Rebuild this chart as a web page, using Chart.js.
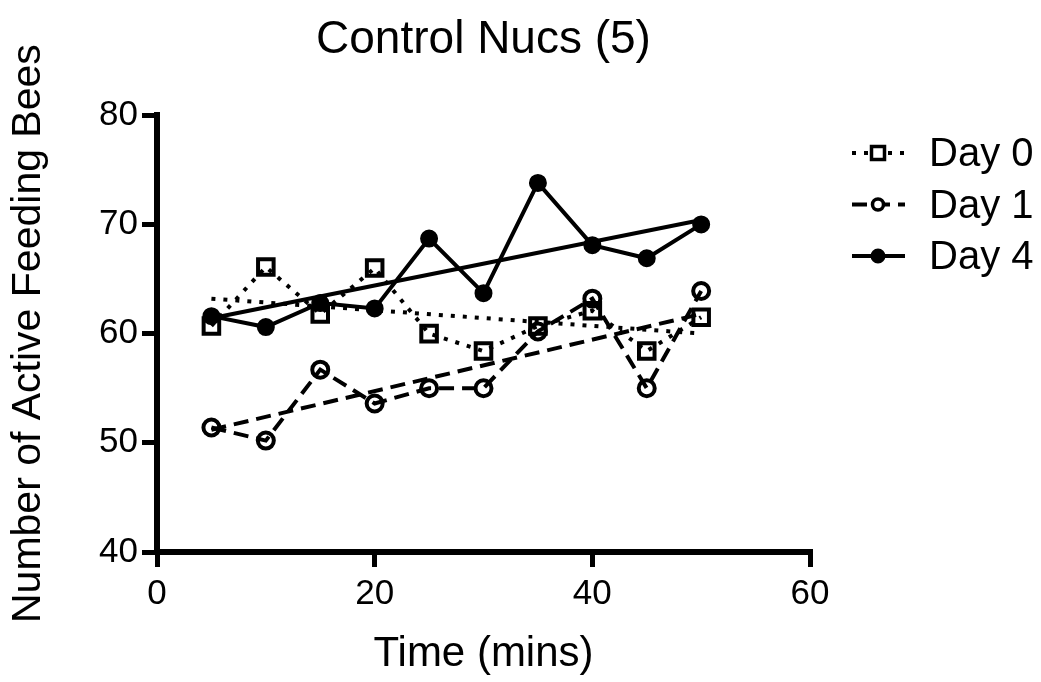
<!DOCTYPE html>
<html>
<head>
<meta charset="utf-8">
<script src="https://cdn.jsdelivr.net/npm/chart.js@4"></script>
<style>
  html, body { margin: 0; padding: 0; background: #fff; }
  #wrap { width: 1041px; height: 682px; }
</style>
</head>
<body>
<div id="wrap"><canvas id="chart" width="1041" height="682"></canvas></div>
<script>
  // values
  const times = [5, 10, 15, 20, 25, 30, 35, 40, 45, 50];
  const day0 = [60.7, 66.1, 61.8, 66.0, 60.0, 58.4, 60.7, 62.1, 58.4, 61.5];
  const day1 = [51.4, 50.2, 56.7, 53.6, 55.0, 55.0, 60.2, 63.2, 55.0, 63.9];
  const day4 = [61.6, 60.6, 62.8, 62.3, 68.7, 63.7, 73.8, 68.1, 66.9, 70.0];

  // fitted trend lines, end points as drawn
  const fitX = [5, 50];
  const fit0 = [63.2, 60.0];
  const fit1 = [51.2, 61.8];
  const fit4 = [61.4, 70.4];

  const seriesNames = ['Day 0', 'Day 1', 'Day 4'];

  const FONT = '"Liberation Sans", Arial, Helvetica, sans-serif';
  const BLACK = '#000';

  const styles = [
    { dash: [4, 8], pointStyle: 'rect', radius: 11, pw: 4, fill: 'rgba(0,0,0,0)' },
    { dash: [15, 8], pointStyle: 'circle', radius: 8, pw: 4, fill: 'rgba(0,0,0,0)' },
    { dash: [], pointStyle: 'circle', radius: 8, pw: 2, fill: BLACK }
  ];

  const toXY = (xs, ys) => xs.map((x, i) => ({ x: x, y: ys[i] }));

  function dataSet(label, ys, st){
    return {
      label: label,
      data: toXY(times, ys),
      borderColor: BLACK,
      borderWidth: 4,
      borderDash: st.dash,
      pointStyle: st.pointStyle,
      pointRadius: st.radius,
      pointBorderWidth: st.pw,
      pointBorderColor: BLACK,
      pointBackgroundColor: st.fill,
      fill: false,
      tension: 0
    };
  }

  function fitSet(ys, st){
    return {
      label: '',
      data: toXY(fitX, ys),
      borderColor: BLACK,
      borderWidth: 4,
      borderDash: st.dash,
      pointRadius: 0,
      fill: false
    };
  }

  // legend on the right: short line, small marker, label
  const dayLegend = {
    id: 'dayLegend',
    afterDraw(chart){
      const ctx = chart.ctx;
      const x0 = 852, x1 = 905, xm = 878, tx = 929;
      const sizes = [7.5, 6.5, 7.5];
      seriesNames.forEach((name, i) => {
        const st = styles[i];
        const y = 153 + i * 51.5;
        ctx.save();
        ctx.strokeStyle = BLACK;
        ctx.lineWidth = 4;
        ctx.setLineDash(st.dash);
        ctx.beginPath();
        ctx.moveTo(x0, y);
        ctx.lineTo(x1, y);
        ctx.stroke();
        ctx.setLineDash([]);
        ctx.lineWidth = i === 2 ? 2 : 3.5;
        ctx.fillStyle = i === 2 ? BLACK : '#fff';
        ctx.beginPath();
        if (st.pointStyle === 'rect') {
          const s = sizes[i] - 1;
          ctx.rect(xm - s, y - s, 2 * s, 2 * s);
        } else {
          ctx.arc(xm, y, sizes[i] - 1, 0, Math.PI * 2);
        }
        ctx.fill();
        ctx.stroke();
        ctx.fillStyle = BLACK;
        ctx.font = '40px ' + FONT;
        ctx.textAlign = 'left';
        ctx.textBaseline = 'middle';
        ctx.fillText(name, tx, y + 2);
        ctx.restore();
      });
    }
  };

  new Chart(document.getElementById('chart'), {
    type: 'line',
    data: {
      datasets: [
        dataSet(seriesNames[0], day0, styles[0]),
        dataSet(seriesNames[1], day1, styles[1]),
        dataSet(seriesNames[2], day4, styles[2]),
        fitSet(fit0, styles[0]),
        fitSet(fit1, styles[1]),
        fitSet(fit4, styles[2])
      ]
    },
    options: {
      responsive: false,
      animation: false,
      events: [],
      devicePixelRatio: 1,
      layout: { padding: { left: 0, right: 231, top: 0, bottom: 0 } },
      scales: {
        x: {
          type: 'linear',
          min: 0,
          max: 60,
          ticks: { stepSize: 20, color: BLACK, padding: 6, font: { family: FONT, size: 35 } },
          grid: { drawOnChartArea: false, color: BLACK, lineWidth: 5, tickLength: 15 },
          border: { display: true, color: BLACK, width: 6 },
          title: { display: true, text: 'Time (mins)', color: BLACK,
                   font: { family: FONT, size: 42 }, padding: { top: 0, bottom: 2 } },
          afterFit(scale){ scale.height = 130; }
        },
        y: {
          type: 'linear',
          min: 40,
          max: 80,
          ticks: { stepSize: 10, color: BLACK, padding: 4, font: { family: FONT, size: 35 } },
          grid: { drawOnChartArea: false, color: BLACK, lineWidth: 5, tickLength: 15 },
          border: { display: true, color: BLACK, width: 6 },
          title: { display: true, text: 'Number of Active Feeding Bees', color: BLACK,
                   font: { family: FONT, size: 41 }, padding: { top: 4, bottom: 0 } },
          afterFit(scale){ scale.width = 157; }
        }
      },
      plugins: {
        legend: { display: false },
        tooltip: { enabled: false },
        title: {
          display: true,
          text: 'Control Nucs (5)',
          color: BLACK,
          fullSize: false,
          font: { family: FONT, size: 46, weight: 'normal' },
          padding: { top: 13, bottom: 47 }
        }
      }
    },
    plugins: [dayLegend]
  });
</script>
</body>
</html>
